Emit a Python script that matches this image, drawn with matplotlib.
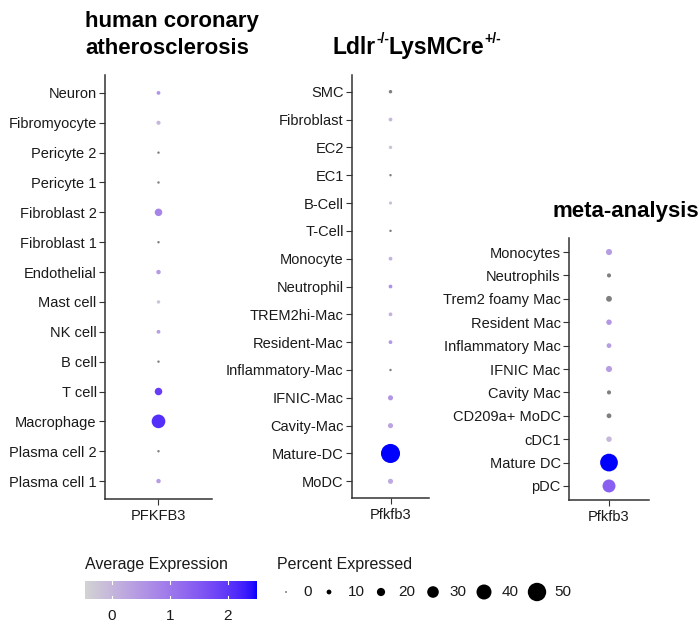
import numpy as np
import matplotlib
matplotlib.use("Agg")
import matplotlib.pyplot as plt
from matplotlib.colors import ListedColormap, Normalize

plt.rcParams["font.family"] = ["Liberation Sans", "DejaVu Sans"]

# ---- data -------------------------------------------------------------
human_cells = ["Neuron", "Fibromyocyte", "Pericyte 2", "Pericyte 1", "Fibroblast 2",
               "Fibroblast 1", "Endothelial", "Mast cell", "NK cell", "B cell",
               "T cell", "Macrophage", "Plasma cell 2", "Plasma cell 1"]
human_pct = [7, 8, 3, 3, 18, 3, 9, 6, 7, 3, 18, 36, 3, 9]
human_avg = [0.55, 0.0, np.nan, np.nan, 0.8, np.nan, 0.45, -0.2, 0.4, np.nan,
             1.9, 2.1, np.nan, 0.4]

mouse_cells = ["SMC", "Fibroblast", "EC2", "EC1", "B-Cell", "T-Cell", "Monocyte",
               "Neutrophil", "TREM2hi-Mac", "Resident-Mac", "Inflammatory-Mac",
               "IFNIC-Mac", "Cavity-Mac", "Mature-DC", "MoDC"]
mouse_pct = [6, 7, 6, 3, 5, 3, 7, 7, 7, 7, 3, 11, 11, 52, 11]
mouse_avg = [np.nan, 0.0, -0.2, np.nan, -0.1, np.nan, 0.05, 0.6, 0.05, 0.5,
             np.nan, 0.5, 0.3, 2.5, 0.2]

meta_cells = ["Monocytes", "Neutrophils", "Trem2 foamy Mac", "Resident Mac",
              "Inflammatory Mac", "IFNIC Mac", "Cavity Mac", "CD209a+ MoDC",
              "cDC1", "Mature DC", "pDC"]
meta_pct = [14, 8, 13, 12, 10, 14, 8, 10, 12, 48, 34]
meta_avg = [0.4, np.nan, np.nan, 0.5, 0.4, 0.4, np.nan, np.nan, 0.0, 2.5, 1.4]

size_breaks = [0, 10, 20, 30, 40, 50]
color_breaks = [0, 1, 2]
color_limits = (-0.46, 2.5)

# ---- colour scale: lightgrey -> blue, interpolated in CIELAB ----------
def _srgb_to_lab(rgb):
    rgb = np.asarray(rgb, float)
    lin = np.where(rgb <= 0.04045, rgb / 12.92, ((rgb + 0.055) / 1.055) ** 2.4)
    M = np.array([[0.4124, 0.3576, 0.1805],
                  [0.2126, 0.7152, 0.0722],
                  [0.0193, 0.1192, 0.9505]])
    xyz = lin @ M.T / np.array([0.95047, 1.0, 1.08883])
    f = np.where(xyz > 0.008856, np.cbrt(xyz), 7.787 * xyz + 16 / 116)
    return np.stack([116 * f[..., 1] - 16,
                     500 * (f[..., 0] - f[..., 1]),
                     200 * (f[..., 1] - f[..., 2])], axis=-1)


def _lab_to_srgb(lab):
    L, a, b = lab[..., 0], lab[..., 1], lab[..., 2]
    fy = (L + 16) / 116
    fx = fy + a / 500
    fz = fy - b / 200
    f = np.stack([fx, fy, fz], axis=-1)
    xyz = np.where(f ** 3 > 0.008856, f ** 3, (f - 16 / 116) / 7.787)
    xyz = xyz * np.array([0.95047, 1.0, 1.08883])
    Minv = np.array([[3.2406, -1.5372, -0.4986],
                     [-0.9689, 1.8758, 0.0415],
                     [0.0557, -0.2040, 1.0570]])
    lin = np.clip(xyz @ Minv.T, 0, 1)
    rgb = np.where(lin <= 0.0031308, 12.92 * lin, 1.055 * lin ** (1 / 2.4) - 0.055)
    return np.clip(rgb, 0, 1)


lab_lo = _srgb_to_lab([211 / 255, 211 / 255, 211 / 255])
lab_hi = _srgb_to_lab([0.0, 0.0, 1.0])
t = np.linspace(0, 1, 256)[:, None]
cmap = ListedColormap(_lab_to_srgb(lab_lo + (lab_hi - lab_lo) * t))
norm = Normalize(*color_limits, clip=True)
na_color = "#7f7f7f"

DPI = 100
W, H = 700, 624


def diam_px(pct):
    return 0.34 * pct + 1.4


def area_pt2(pct):
    return (diam_px(pct) * 72 / DPI) ** 2


def px_axes(fig, left, top, right, bottom):
    return fig.add_axes([left / W, 1 - bottom / H, (right - left) / W, (bottom - top) / H])


fig = plt.figure(figsize=(W / DPI, H / DPI), dpi=DPI)

ink = "#1a1a1a"


def dot_panel(ax, cells, pct, avg, gene):
    n = len(cells)
    y = np.arange(n)[::-1]
    cols = [na_color if np.isnan(v) else cmap(norm(v)) for v in avg]
    ax.scatter(np.ones(n), y, s=[area_pt2(p) for p in pct], c=cols,
               linewidths=0, zorder=3)
    ax.set_ylim(-0.6, n - 1 + 0.6)
    ax.set_xlim(0.4, 1.6)
    ax.set_yticks(y)
    ax.set_yticklabels(cells)
    ax.set_xticks([1])
    ax.set_xticklabels([gene])
    for s in ("top", "right"):
        ax.spines[s].set_visible(False)
    for s in ("left", "bottom"):
        ax.spines[s].set_color("#333333")
        ax.spines[s].set_linewidth(1.1)
    ax.tick_params(axis="both", length=4, width=0.8, color="#333333",
                   labelsize=10.5, labelcolor=ink, pad=2)
    ax.tick_params(axis="x", pad=3)


ax1 = px_axes(fig, 105, 75, 212, 499)
dot_panel(ax1, human_cells, human_pct, human_avg, "PFKFB3")
ax2 = px_axes(fig, 352, 75, 429, 498)
dot_panel(ax2, mouse_cells, mouse_pct, mouse_avg, "Pfkfb3")
ax3 = px_axes(fig, 569, 238, 649, 500)
dot_panel(ax3, meta_cells, meta_pct, meta_avg, "Pfkfb3")

# ---- panel titles -----------------------------------------------------
fig.text(85 / W, 1 - 21 / H, "human coronary", ha="left", va="center",
         fontsize=16, fontweight="bold", color="black")
fig.text(85 / W, 1 - 49 / H, "atherosclerosis", ha="left", va="center",
         fontsize=16, fontweight="bold", color="black")
fig.text(626 / W, 1 - 212 / H, "meta-analysis", ha="center", va="center",
         fontsize=16, fontweight="bold", color="black")

# genotype title built from base text and raised superscripts
renderer = fig.canvas.get_renderer()
title_parts = [("Ldlr", False), ("-/-", True), ("LysMCre", False), ("+/-", True)]
x_px = 333
base_y = 1 - 54 / H
for txt, sup in title_parts:
    if sup:
        obj = fig.text(x_px / W, base_y + 11 / H, txt, ha="left", va="baseline",
                       fontsize=10, fontweight="bold", color="black")
    else:
        obj = fig.text(x_px / W, base_y, txt, ha="left", va="baseline",
                       fontsize=16.5, fontweight="bold", color="black")
    bb = obj.get_window_extent(renderer=renderer)
    x_px += bb.width

# ---- colour legend ----------------------------------------------------
fig.text(85 / W, 1 - 565 / H, "Average Expression", ha="left", va="center",
         fontsize=11.5, color=ink)
cax = px_axes(fig, 85, 581, 257, 599)
grad = np.linspace(*color_limits, 256)[None, :]
cax.imshow(grad, aspect="auto", cmap=cmap, norm=norm,
           extent=[color_limits[0], color_limits[1], 0, 1])
cax.set_xlim(*color_limits)
cax.set_ylim(0, 1)
for v in color_breaks:
    cax.plot([v, v], [0, 0.18], color="white", lw=0.8)
    cax.plot([v, v], [0.82, 1], color="white", lw=0.8)
cax.set_yticks([])
cax.set_xticks(color_breaks)
cax.set_xticklabels([str(v) for v in color_breaks])
cax.tick_params(axis="x", length=0, labelsize=11, labelcolor=ink, pad=7)
for s in cax.spines.values():
    s.set_visible(False)

# ---- size legend ------------------------------------------------------
fig.text(277 / W, 1 - 565 / H, "Percent Expressed", ha="left", va="center",
         fontsize=11.5, color=ink)
sax = px_axes(fig, 270, 578, 580, 606)
sax.set_xlim(270, 580)
sax.set_ylim(606, 578)
sax.axis("off")
dot_x = [286, 329, 381, 433, 484, 537]
lab_x = [308, 356, 407, 458, 510, 563]
sax.scatter(dot_x, [592] * len(dot_x), s=[area_pt2(v) for v in size_breaks],
            color="black", linewidths=0)
for x, v in zip(lab_x, size_breaks):
    sax.text(x, 592, str(v), ha="center", va="center", fontsize=11, color=ink)

fig.savefig("out.png", dpi=DPI, facecolor="white")
